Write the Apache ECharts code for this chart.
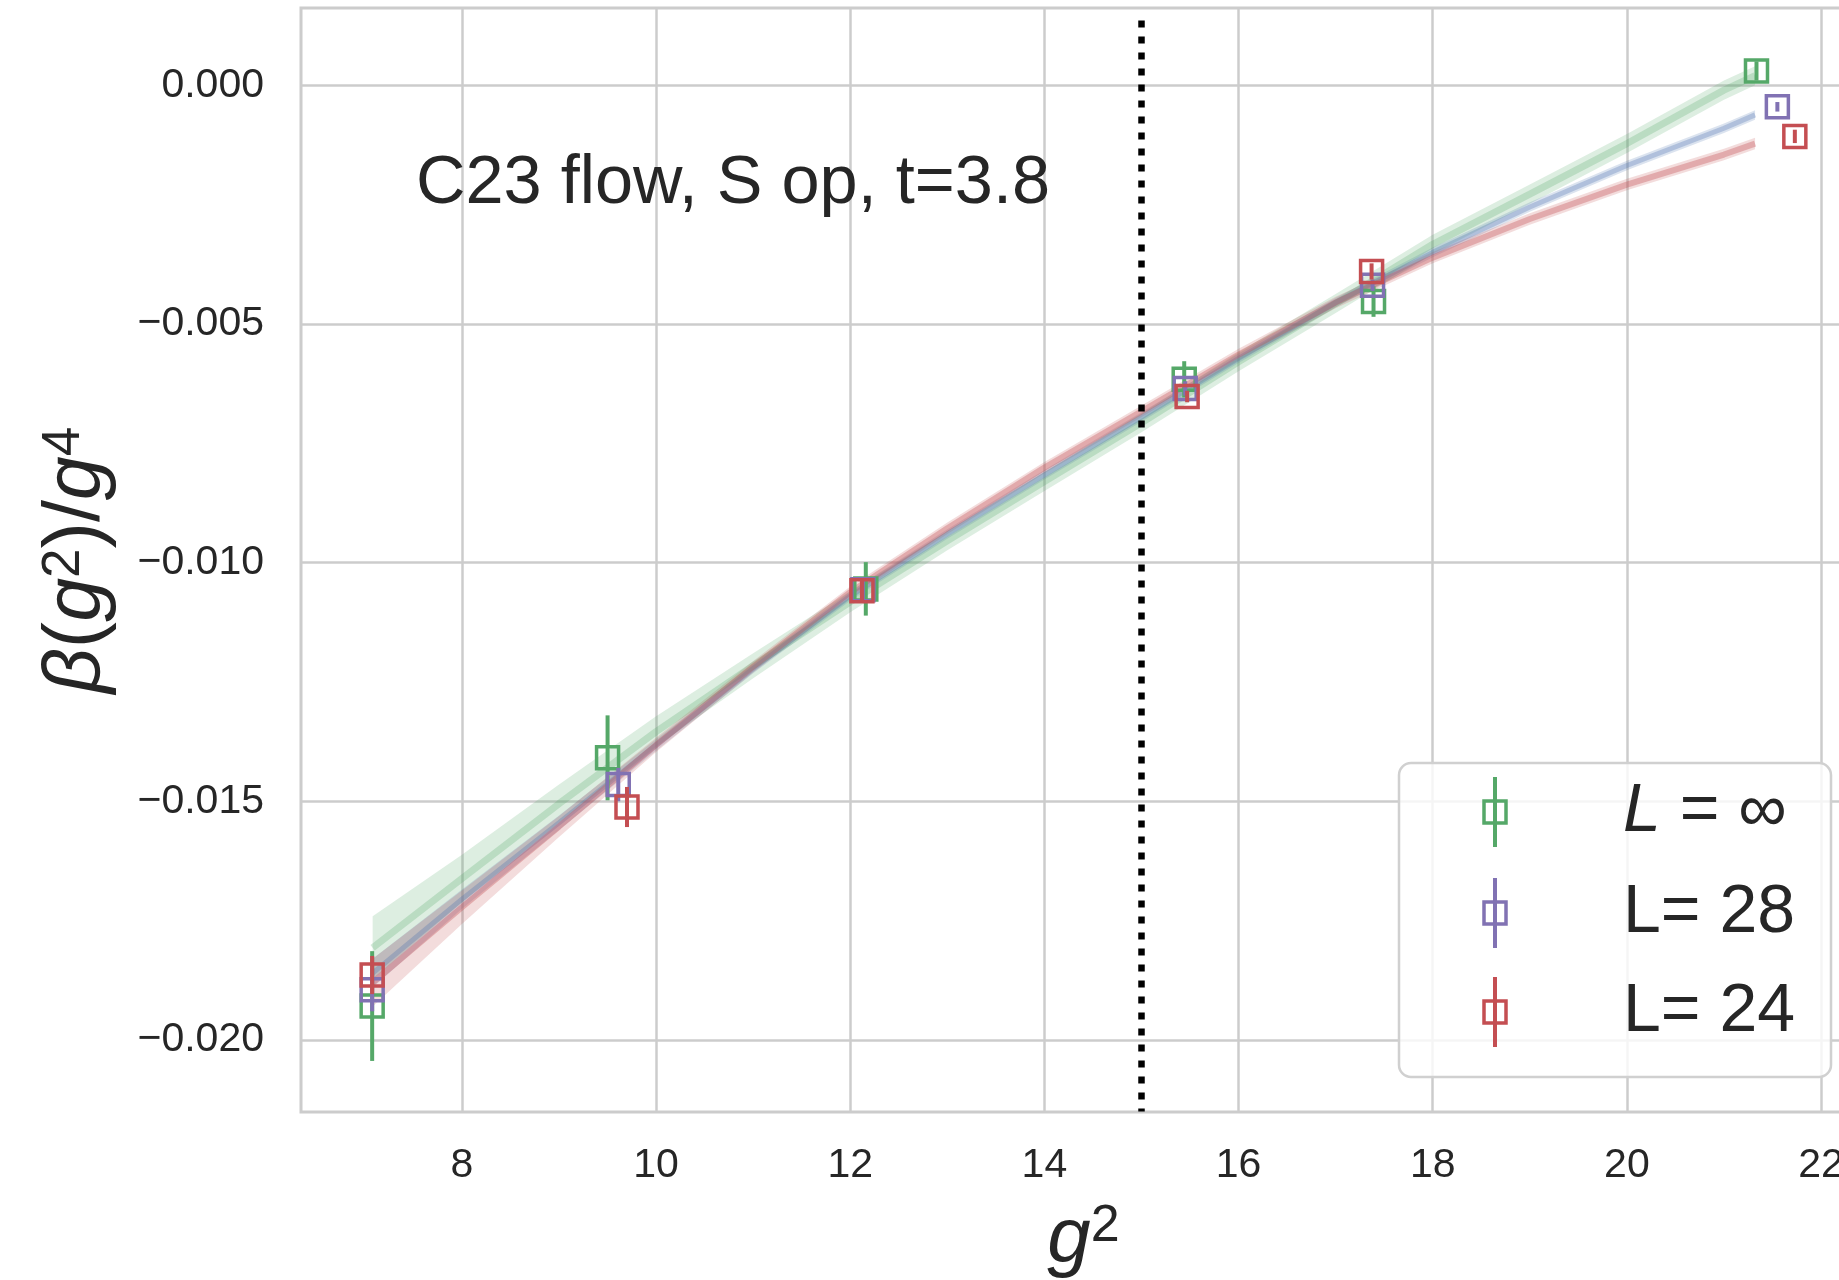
<!DOCTYPE html>
<html>
<head>
<meta charset="utf-8">
<title>C23 flow beta function</title>
<script src="https://cdn.jsdelivr.net/npm/echarts@6/dist/echarts.min.js"></script>
<style>
  html, body { margin: 0; padding: 0; background: #fff; }
  #main { width: 1839px; height: 1280px; }
</style>
</head>
<body>
<div id="main"></div>
<script>
// measured points: g^2, beta(g^2)/g^4, error
const g2Inf = [7.075, 9.50, 12.16, 15.44, 17.39, 21.335];
const betaInf = [-0.01929, -0.01409, -0.01055, -0.00616, -0.00453, 0.00030];
const errInf = [0.00115, 0.00089, 0.00056, 0.00038, 0.00032, 0.0002];

const g2L28 = [7.075, 9.61, 12.13, 15.45, 17.38, 21.55];
const betaL28 = [-0.01895, -0.01465, -0.01057, -0.00635, -0.00419, -0.00045];
const errL28 = [0.00045, 0.00035, 0.0002, 0.00015, 0.00012, 0.0001];

const g2L24 = [7.075, 9.70, 12.12, 15.47, 17.37, 21.73];
const betaL24 = [-0.01864, -0.01512, -0.01059, -0.00652, -0.00390, -0.00107];
const errL24 = [0.0004, 0.00042, 0.00025, 0.00012, 0.00017, 0.00014];

// fit curves
const fitX = [7.08, 8, 9, 10, 11, 12, 13, 14, 15, 16, 17, 18, 19, 20, 21, 21.32];
const fitInf = [-0.01807, -0.01662, -0.01505, -0.01354, -0.01216, -0.01082, -0.00954, -0.00830,
  -0.00707, -0.00579, -0.00457, -0.00333, -0.00228, -0.00122, -0.00010, 0.00020];
const fitInfErr = [0.00066, 0.0005, 0.0004, 0.00032, 0.00026, 0.00022, 0.0002, 0.0002,
  0.0002, 0.0002, 0.0002, 0.0002, 0.0002, 0.0002, 0.0002, 0.0002];
const fitL28 = [-0.01860, -0.01705, -0.01545, -0.01382, -0.01222, -0.01070, -0.00940, -0.00816,
  -0.00695, -0.00572, -0.00455, -0.00350, -0.00255, -0.00168, -0.00090, -0.00062];
const fitL28Err = [0.0003, 0.0002, 0.00015, 0.00012, 0.0001, 0.0001, 0.0001, 0.0001,
  0.0001, 0.0001, 0.0001, 0.0001, 0.0001, 0.0001, 0.0001, 0.0001];
const fitL24 = [-0.01880, -0.01722, -0.01553, -0.01382, -0.01218, -0.01062, -0.00928, -0.00801,
  -0.00683, -0.00564, -0.00455, -0.00361, -0.00280, -0.00208, -0.00145, -0.00122];
const fitL24Err = [0.0005, 0.00035, 0.00022, 0.00015, 0.00012, 0.00012, 0.00012, 0.00012,
  0.00012, 0.00012, 0.00012, 0.00012, 0.00012, 0.00012, 0.00012, 0.00012];

// dotted line at g^2 = 15
const vlineX = 15;
const vlineY = [0.00136, -0.0215];

const xTicks = [8, 10, 12, 14, 16, 18, 20, 22];
const yTicks = [0, -0.005, -0.01, -0.015, -0.02];

const GREEN = '#55a868', PURPLE = '#8172b3', RED = '#c44e52', BLUE = '#4c72b0';
const FONT = '"Liberation Sans", Arial, sans-serif';
const TXT = '#262626';

function bandSeries(xs, mid, half, color, opacity) {
  return {
    type: 'custom',
    z: 2,
    silent: true,
    data: xs.map((x, i) => [x, mid[i] - half[i], mid[i] + half[i]]),
    encode: { x: 0, y: [1, 2] },
    renderItem(params, api) {
      if (params.dataIndex !== 0) return null;
      const pts = [];
      for (let i = 0; i < xs.length; i++) pts.push(api.coord([xs[i], mid[i] + half[i]]));
      for (let i = xs.length - 1; i >= 0; i--) pts.push(api.coord([xs[i], mid[i] - half[i]]));
      return { type: 'polygon', shape: { points: pts }, style: { fill: color, opacity: opacity } };
    }
  };
}

function fitLine(xs, ys, color, width, opacity) {
  return {
    type: 'line',
    z: 2,
    silent: true,
    showSymbol: false,
    data: xs.map((x, i) => [x, ys[i]]),
    lineStyle: { color: color, width: width, opacity: opacity }
  };
}

function errSeries(name, xs, ys, errs, color, z) {
  return {
    name: name,
    type: 'custom',
    z: z,
    data: xs.map((x, i) => [x, ys[i], errs[i]]),
    encode: { x: 0, y: 1 },
    renderItem(params, api) {
      const x = api.value(0), y = api.value(1), e = api.value(2);
      const c = api.coord([x, y]);
      const top = api.coord([x, y + e]);
      const bot = api.coord([x, y - e]);
      const h = 11;
      return {
        type: 'group',
        children: [
          { type: 'line', shape: { x1: c[0], y1: top[1], x2: c[0], y2: bot[1] },
            style: { stroke: color, lineWidth: 4 } },
          { type: 'rect', shape: { x: c[0] - h, y: c[1] - h, width: 2 * h, height: 2 * h },
            style: { fill: 'none', stroke: color, lineWidth: 3.5 } }
        ]
      };
    }
  };
}

// legend drawn by hand: errorbar icon + label
function legendRow(cy, color, text) {
  return [
    { type: 'line', shape: { x1: 1495, y1: cy - 35, x2: 1495, y2: cy + 35 },
      style: { stroke: color, lineWidth: 4 }, z: 101 },
    { type: 'rect', shape: { x: 1484, y: cy - 11, width: 22, height: 22 },
      style: { fill: 'none', stroke: color, lineWidth: 3.5 }, z: 101 },
    { type: 'text', x: 1623, y: cy, z: 101,
      style: { text: text, fontSize: 68, fontFamily: FONT, fill: TXT, verticalAlign: 'middle',
        rich: { i: { fontStyle: 'italic', fontSize: 68, fontFamily: FONT, fill: TXT } } } }
  ];
}

const chart = echarts.init(document.getElementById('main'));

const option = {
  backgroundColor: '#ffffff',
  animation: false,
  grid: {
    left: 301, top: 8, right: -27, bottom: 168,
    show: true, borderColor: '#cccccc', borderWidth: 3,
    containLabel: false, outerBoundsMode: 'none'
  },
  xAxis: {
    type: 'value',
    min: 6.342, max: 22.463,
    name: '{i|g}{s|2}',
    nameLocation: 'middle',
    nameGap: 89,
    nameTextStyle: {
      rich: {
        i: { fontSize: 78, fontStyle: 'italic', fontFamily: FONT, color: TXT },
        s: { fontSize: 52, fontFamily: FONT, color: TXT, verticalAlign: 'top' }
      }
    },
    axisLine: { show: false },
    axisTick: { show: false, customValues: xTicks },
    axisLabel: { customValues: xTicks, fontSize: 41, fontFamily: FONT, color: TXT, margin: 33 },
    splitLine: { show: true, lineStyle: { color: '#cccccc', width: 2.5 } }
  },
  yAxis: {
    type: 'value',
    min: -0.02151, max: 0.00162,
    name: '{i|β}{n|(}{i|g}{s|2}{n|)/}{i|g}{s|4}',
    nameLocation: 'middle',
    nameRotate: 90,
    nameGap: 184,
    nameTextStyle: {
      rich: {
        i: { fontSize: 79, fontStyle: 'italic', fontFamily: FONT, color: TXT },
        n: { fontSize: 79, fontFamily: FONT, color: TXT },
        s: { fontSize: 53, fontFamily: FONT, color: TXT, verticalAlign: 'top' }
      }
    },
    axisLine: { show: false },
    axisTick: { show: false, customValues: yTicks },
    axisLabel: {
      customValues: yTicks, fontSize: 41, fontFamily: FONT, color: TXT, margin: 37,
      formatter: v => (v < 0 ? '\u2212' : '') + Math.abs(v).toFixed(3)
    },
    splitLine: { show: true, lineStyle: { color: '#cccccc', width: 2.5 } }
  },
  series: [
    bandSeries(fitX, fitInf, fitInfErr, GREEN, 0.2),
    fitLine(fitX, fitInf, GREEN, 7, 0.25),
    bandSeries(fitX, fitL28, fitL28Err, BLUE, 0.2),
    fitLine(fitX, fitL28, BLUE, 5, 0.3),
    bandSeries(fitX, fitL24, fitL24Err, RED, 0.2),
    fitLine(fitX, fitL24, RED, 6, 0.35),
    {
      type: 'line',
      z: 3,
      silent: true,
      showSymbol: false,
      data: vlineY.map(y => [vlineX, y]),
      lineStyle: { color: '#000000', width: 6.5, type: [7, 9], cap: 'butt' }
    },
    errSeries('L = inf', g2Inf, betaInf, errInf, GREEN, 5),
    errSeries('L = 28', g2L28, betaL28, errL28, PURPLE, 6),
    errSeries('L = 24', g2L24, betaL24, errL24, RED, 7)
  ],
  graphic: [
    { type: 'text', x: 416, y: 184, z: 50,
      style: { text: 'C23 flow, S op, t=3.8', fontSize: 68.5, fontFamily: FONT, fill: TXT,
        verticalAlign: 'middle', align: 'left' } },
    { type: 'rect', shape: { x: 1399, y: 763, width: 432, height: 314, r: 12 }, z: 100,
      style: { fill: 'rgba(255,255,255,0.8)', stroke: '#d0d0d0', lineWidth: 2.5 } },
    ...legendRow(812, GREEN, '{i|L} = ∞'),
    ...legendRow(913, PURPLE, 'L= 28'),
    ...legendRow(1012, RED, 'L= 24')
  ]
};

chart.setOption(option);
</script>
</body>
</html>
